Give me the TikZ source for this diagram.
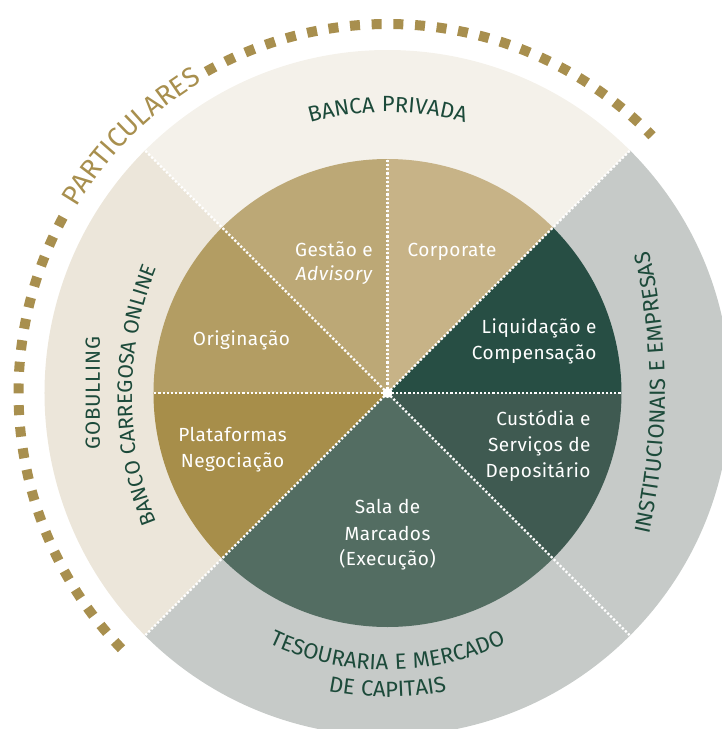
\documentclass[tikz,border=0pt]{standalone}
\usepackage{fontspec}
\setmainfont{Fira Sans}
\newfontfamily\ringfont{Fira Sans}[LetterSpace=4]
\newfontfamily\wedgefont{Fira Sans}[LetterSpace=2.5]
\usetikzlibrary{decorations.text}

\definecolor{ringcream}{HTML}{F4F1EA}
\definecolor{ringsand}{HTML}{ECE6DA}
\definecolor{ringgrey}{HTML}{C6CAC8}
\definecolor{corporatetan}{HTML}{C7B387}
\definecolor{gestaotan}{HTML}{BCA876}
\definecolor{origgold}{HTML}{B39D63}
\definecolor{platgold}{HTML}{A78E4A}
\definecolor{salagreen}{HTML}{536D62}
\definecolor{custgreen}{HTML}{3F5A51}
\definecolor{liqgreen}{HTML}{274E44}
\definecolor{labelgreen}{HTML}{1C4A3A}
\definecolor{dashgold}{HTML}{A88F4E}

\tikzset{
  wedgelabel/.style={text=white, inner sep=0pt,
    font=\wedgefont\fontsize{19}{26}\selectfont},
  sepline/.style={white, line width=2.2pt, dash pattern=on 2.2pt off 2pt},
  goldtrack/.style={dashgold, line width=10pt, dash pattern=on 10pt off 11.7pt},
  ringtext/.style={decorate, decoration={text along path, text align=center,
    text color=labelgreen}},
}

\begin{document}
\begin{tikzpicture}[x=1pt, y=1pt]
\useasboundingbox (-387.5,-336) rectangle (333.5,393);

% outer ring segments
\fill[ringcream] (0,0) -- (45:343) arc[start angle=45, end angle=135, radius=343] -- cycle;
\fill[ringsand] (0,0) -- (135:343) arc[start angle=135, end angle=225, radius=343] -- cycle;
\fill[ringgrey] (0,0) -- (225:343) arc[start angle=225, end angle=405, radius=343] -- cycle;

% inner pie
\fill[liqgreen] (0,0) -- (0:234) arc[start angle=0, end angle=45, radius=234] -- cycle;
\fill[corporatetan] (0,0) -- (45:234) arc[start angle=45, end angle=90, radius=234] -- cycle;
\fill[gestaotan] (0,0) -- (90:234) arc[start angle=90, end angle=135, radius=234] -- cycle;
\fill[origgold] (0,0) -- (135:234) arc[start angle=135, end angle=180, radius=234] -- cycle;
\fill[platgold] (0,0) -- (180:234) arc[start angle=180, end angle=225, radius=234] -- cycle;
\fill[salagreen] (0,0) -- (225:234) arc[start angle=225, end angle=315, radius=234] -- cycle;
\fill[custgreen] (0,0) -- (315:234) arc[start angle=315, end angle=360, radius=234] -- cycle;

% dotted separators
\coordinate (o) at (0,0);
\coordinate (rNE) at (45:343);
\coordinate (rNW) at (135:343);
\coordinate (rSW) at (225:343);
\coordinate (rSE) at (315:343);
\coordinate (iN) at (90:234);
\coordinate (iW) at (180:234);
\coordinate (iE) at (0:234);
\foreach \e in {rNE,rNW,rSW,rSE,iN,iW,iE}
  \draw[sepline] (o) -- (\e);
\node[circle, fill=white, minimum size=10pt, inner sep=0pt] (hub) at (o) {};

% gold dashed track
\draw[goldtrack, dash phase=15.85pt] (90:369) arc[start angle=90, end angle=44.2, radius=369];
\draw[goldtrack, dash phase=15.85pt] (90:369) arc[start angle=90, end angle=119.5, radius=369];
\draw[goldtrack, dash phase=14.88pt] (150.5:369) arc[start angle=150.5, end angle=225.6, radius=369];

\path[decorate, decoration={text along path, text align=center, text color=dashgold,
  text={|\ringfont\fontsize{27.5}{32}\selectfont|PARTICULARES}}]
  (160:362) arc[start angle=160, end angle=110, radius=362];

% ring captions
\path[ringtext, decoration={text={|\ringfont\fontsize{22}{26}\selectfont|BANCA PRIVADA}}]
  (125:281) arc[start angle=125, end angle=55, radius=281];
\path[ringtext, decoration={text={|\ringfont\fontsize{22}{26}\selectfont|TESOURARIA E MERCADO}}]
  (230:277) arc[start angle=230, end angle=310, radius=277];
\path[ringtext, decoration={text={|\ringfont\fontsize{22}{26}\selectfont|DE CAPITAIS}}]
  (250:304) arc[start angle=250, end angle=290, radius=304];
\path[ringtext, shift={(-372.5,0)}, decoration={text={|\ringfont\fontsize{22}{26}\selectfont|INSTITUCIONAIS E EMPRESAS}}]
  (-17:650) arc[start angle=-17, end angle=17, radius=650];
\path[ringtext, shift={(84.5,-2)}, decoration={text={|\ringfont\fontsize{21}{25}\selectfont|BANCO CARREGOSA ONLINE}}]
  (205:340) arc[start angle=205, end angle=155, radius=340];
\node[rotate=90, anchor=base, inner sep=0pt, text=labelgreen,
  font=\ringfont\fontsize{20.5}{24}\selectfont] (gobulling) at (-287.5,0) {GOBULLING};

% wedge labels
\node[wedgelabel, anchor=base] (gest1) at (-53.5,136.3) {Gestão e};
\node[wedgelabel, anchor=base] (gest2) at (-53.5,112.3) {\itshape Advisory};
\node[wedgelabel, anchor=base] (corp) at (64.5,137) {Corporate};
\node[wedgelabel, anchor=base] (orig) at (-146,48) {Originação};
\node[wedgelabel, anchor=base east] (liq1) at (209.2,60) {Liquidação e};
\node[wedgelabel, anchor=base east] (liq2) at (209.2,34) {Compensação};
\node[wedgelabel, anchor=base east] (cus1) at (203.2,-32) {Custódia e};
\node[wedgelabel, anchor=base east] (cus2) at (203.2,-58.5) {Serviços de};
\node[wedgelabel, anchor=base east] (cus3) at (203.2,-84) {Depositário};
\node[wedgelabel, anchor=base] (plat1) at (-155,-48.7) {Plataformas};
\node[wedgelabel, anchor=base] (plat2) at (-155,-74.3) {Negociação};
\node[wedgelabel, anchor=base] (sala1) at (0,-120.3) {Sala de};
\node[wedgelabel, anchor=base] (sala2) at (0,-147) {Marcados};
\node[wedgelabel, anchor=base] (sala3) at (0,-172) {(Execução)};
\end{tikzpicture}
\end{document}
